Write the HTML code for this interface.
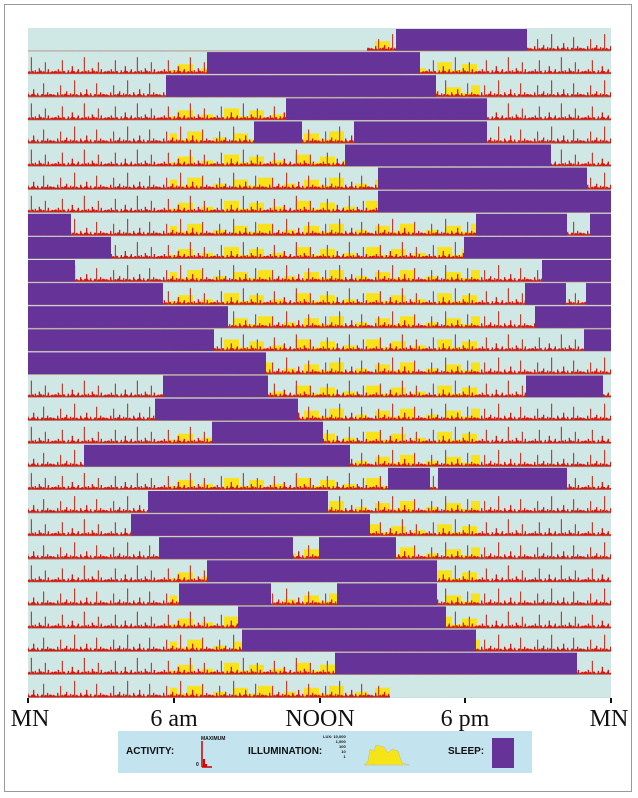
<!DOCTYPE html>
<html><head><meta charset="utf-8"><style>
html,body{margin:0;padding:0;background:#fff;}
#w{position:relative;width:638px;height:798px;overflow:hidden;}
.fr{position:absolute;left:4px;top:4px;width:628px;height:788px;border:1px solid #999;box-sizing:border-box;}
.lab{position:absolute;top:706px;font-family:"Liberation Serif",serif;font-size:24px;color:#111;transform:translateX(-50%);white-space:nowrap;}
.lg{position:absolute;left:118px;top:731px;width:414px;height:42px;background:#c3e3ef;font-family:"Liberation Sans",sans-serif;font-weight:bold;color:#111;}
.lg span{position:absolute;white-space:nowrap;}
</style></head><body><div id="w">
<div class="fr"></div>
<svg style="position:absolute;left:0;top:0" width="638" height="798">
<defs>
<g id="yt"><path d="M0,23.1V17H12V23.1H20V13H35V19H45V11H60V21H71V23.1Z" fill="#f8e21a"/></g>
<pattern id="yl" patternUnits="userSpaceOnUse" x="0" y="28" width="71" height="46.2">
<use href="#yt"/><use href="#yt" transform="translate(71,23.1) scale(-1,1)"/>
</pattern>
<g id="rt">
<path d="M0,23.1V21L2,20.5L3,22L5,19.5L6,21.5L8,20L10,22L12,19L14,21L16,20.5L18,22L20,19.5L22,21L24,20L26,22L28,19L30,21.5L32,20L34,19L36,21.5L38,20.5L40,22L42,19.5L44,21L46,20L48,21.5L50,19.5L53,21V23.1Z" fill="#d8170f"/>
<g fill="#d8170f">
<rect x="0" y="20.1" width="1.3" height="3"/><rect x="2" y="21.1" width="1.3" height="2"/>
<rect x="4" y="18.1" width="1.3" height="5"/><rect x="5.5" y="21.6" width="1.3" height="1.5"/>
<rect x="9" y="20.1" width="1.3" height="3"/><rect x="11" y="21.1" width="1.3" height="2"/>
<rect x="13" y="17.1" width="1.3" height="6"/><rect x="15" y="22.1" width="1.3" height="1"/>
<rect x="17" y="19.1" width="1.3" height="4"/><rect x="19" y="21.1" width="1.3" height="2"/>
<rect x="23" y="20.1" width="1.3" height="3"/><rect x="25" y="21.1" width="1.3" height="2"/>
<rect x="27" y="18.1" width="1.3" height="5"/><rect x="29" y="21.6" width="1.3" height="1.5"/>
<rect x="31" y="20.1" width="1.3" height="3"/><rect x="33" y="15.1" width="1.3" height="8"/>
<rect x="35" y="21.1" width="1.3" height="2"/><rect x="37" y="19.1" width="1.3" height="4"/>
<rect x="39" y="22.1" width="1.3" height="1"/><rect x="41" y="20.1" width="1.3" height="3"/>
<rect x="45" y="21.1" width="1.3" height="2"/><rect x="47" y="18.1" width="1.3" height="5"/>
<rect x="49" y="21.1" width="1.3" height="2"/><rect x="51" y="20.1" width="1.3" height="3"/>
</g>
<g fill="#c0402f">
<rect x="7" y="11.1" width="1.2" height="12"/><rect x="21" y="6.1" width="1.2" height="17"/><rect x="43" y="9.1" width="1.2" height="14"/>
</g>
<rect x="0" y="22.5" width="53" height="0.8" fill="#a48a80"/>
</g>
<pattern id="rd" patternUnits="userSpaceOnUse" x="0" y="28" width="53" height="46.2">
<use href="#rt"/><use href="#rt" transform="translate(53,23.1) scale(-1,1)"/>
</pattern>
</defs>
<rect x="28" y="28" width="583" height="669.9" fill="#cfe8e6"/>
<rect x="170" y="28" width="310" height="669.9" fill="url(#yl)"/>
<rect x="28" y="28" width="583" height="669.9" fill="url(#rd)"/>
<rect x="28" y="28" width="339" height="22.6" fill="#cfe8e6"/>
<rect x="390" y="675" width="221" height="22.9" fill="#cfe8e6"/>
<g fill="#663399">
<rect x="396" y="29" width="131" height="21.6"/>
<rect x="207" y="52.1" width="213" height="21.6"/>
<rect x="166" y="75.2" width="270" height="21.6"/>
<rect x="286" y="98.3" width="201" height="21.6"/>
<rect x="254" y="121.4" width="48" height="21.6"/><rect x="354" y="121.4" width="133" height="21.6"/>
<rect x="345" y="144.5" width="206" height="21.6"/>
<rect x="378" y="167.6" width="209" height="21.6"/>
<rect x="378" y="190.7" width="233" height="21.6"/>
<rect x="28" y="213.8" width="43" height="21.6"/><rect x="476" y="213.8" width="91" height="21.6"/><rect x="590" y="213.8" width="21" height="21.6"/>
<rect x="28" y="236.9" width="83" height="21.6"/><rect x="464" y="236.9" width="147" height="21.6"/>
<rect x="28" y="260" width="47" height="21.6"/><rect x="542" y="260" width="69" height="21.6"/>
<rect x="28" y="283.1" width="135" height="21.6"/><rect x="525" y="283.1" width="41" height="21.6"/><rect x="586" y="283.1" width="25" height="21.6"/>
<rect x="28" y="306.2" width="200" height="21.6"/><rect x="535" y="306.2" width="76" height="21.6"/>
<rect x="28" y="329.3" width="186" height="21.6"/><rect x="584" y="329.3" width="27" height="21.6"/>
<rect x="28" y="352.4" width="238" height="21.6"/>
<rect x="163" y="375.5" width="105" height="21.6"/><rect x="526" y="375.5" width="77" height="21.6"/>
<rect x="155" y="398.6" width="143" height="21.6"/>
<rect x="212" y="421.7" width="111" height="21.6"/>
<rect x="84" y="444.8" width="266" height="21.6"/>
<rect x="388" y="467.9" width="42" height="21.6"/><rect x="438" y="467.9" width="129" height="21.6"/>
<rect x="148" y="491" width="180" height="21.6"/>
<rect x="131" y="514.1" width="239" height="21.6"/>
<rect x="159" y="537.2" width="134" height="21.6"/><rect x="319" y="537.2" width="77" height="21.6"/>
<rect x="207" y="560.3" width="230" height="21.6"/>
<rect x="179" y="583.4" width="92" height="21.6"/><rect x="337" y="583.4" width="100" height="21.6"/>
<rect x="238" y="606.5" width="208" height="21.6"/>
<rect x="242" y="629.6" width="234" height="21.6"/>
<rect x="335" y="652.7" width="242" height="21.6"/>
</g>
<g fill="#111">
<rect x="27" y="698" width="2" height="5"/><rect x="173" y="698" width="2" height="5"/><rect x="319" y="698" width="2" height="5"/><rect x="464" y="698" width="2" height="5"/><rect x="610" y="698" width="2" height="5"/>
</g>
</svg>
<div class="lab" style="left:30px">MN</div>
<div class="lab" style="left:174px">6 am</div>
<div class="lab" style="left:320px">NOON</div>
<div class="lab" style="left:465px">6 pm</div>
<div class="lab" style="left:609px">MN</div>
<div class="lg">
<span style="left:8px;top:15px;font-size:10px">ACTIVITY:</span>
<span style="left:83px;top:5px;font-size:5px">MAXIMUM</span>
<span style="left:78px;top:31px;font-size:5px">0</span>
<span style="left:130px;top:15px;font-size:10px">ILLUMINATION:</span>
<span style="left:205px;top:3px;font-size:4px;line-height:5px;text-align:right">LUX: 10,000<br>1,000<br>100<br>10<br>1</span>
<span style="left:330px;top:15px;font-size:10px">SLEEP:</span>
<div style="position:absolute;left:374px;top:7px;width:22px;height:30px;background:#663399"></div>
<svg style="position:absolute;left:82px;top:8px" width="14" height="30"><path d="M2,2V28M2,28H12" stroke="#c00" stroke-width="1.5" fill="none"/><path d="M3,28V20H5V25H7V28Z" fill="#d00"/></svg>
<svg style="position:absolute;left:244px;top:10px" width="50" height="26"><path d="M2,24L6,20L8,8L12,10L14,4L22,6L26,12L30,8L36,10L40,22L48,24Z" fill="#f5e516" stroke="#bba" stroke-width="0.5"/></svg>
</div>
</div>
</body></html>
